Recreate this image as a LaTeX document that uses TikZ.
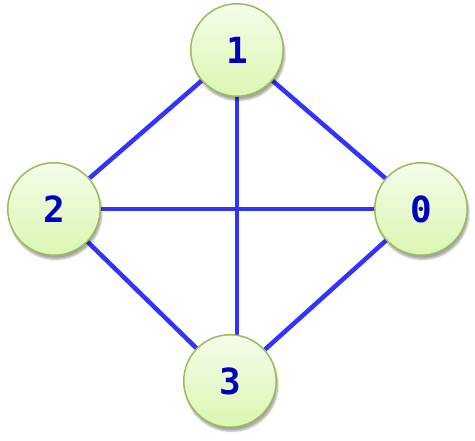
\documentclass[tikz,border=0pt]{standalone}
\usepackage{fontspec}
\newfontfamily\digitfont{DejaVu Sans Mono}
\usetikzlibrary{shadows.blur,backgrounds}
\definecolor{edgeBlue}{HTML}{3333FF}
\definecolor{nodeRim}{HTML}{9BBB59}
\definecolor{nodeTop}{HTML}{F5FDEA}
\definecolor{nodeBot}{HTML}{DBF6B2}
\definecolor{digitBlue}{HTML}{0000C0}
\tikzset{
  vtx/.style={circle, draw=nodeRim, line width=1.5pt, top color=nodeTop,
              bottom color=nodeBot, minimum size=92.5pt, inner sep=0pt,
              font=\digitfont\bfseries\fontsize{36}{36}\selectfont, text=digitBlue,
              blur shadow={shadow xshift=1.5pt, shadow yshift=-4pt,
                           shadow blur steps=6, shadow opacity=35}},
  link/.style={draw=edgeBlue, line width=4.5pt},
}
\begin{document}
\begin{tikzpicture}[x=1pt,y=-1pt]
  \useasboundingbox (0,0) rectangle (475,441);
  % vertices
  \node[vtx] (n1) at (237,50) {1};
  \node[vtx] (n2) at (54,209) {2};
  \node[vtx] (n0) at (421,209) {0};
  \node[vtx] (n3) at (230,381) {3};
  % edges behind the vertices
  \begin{scope}[on background layer]
    \draw[link] (n1) -- (n2);
    \draw[link] (n1) -- (n0);
    \draw[link] (n1.center) -- (n1.center |- n3.center);
    \draw[link] (n2) -- (n0);
    \draw[link] (n2) -- (n3);
    \draw[link] (n0) -- (n3);
  \end{scope}
\end{tikzpicture}
\end{document}
